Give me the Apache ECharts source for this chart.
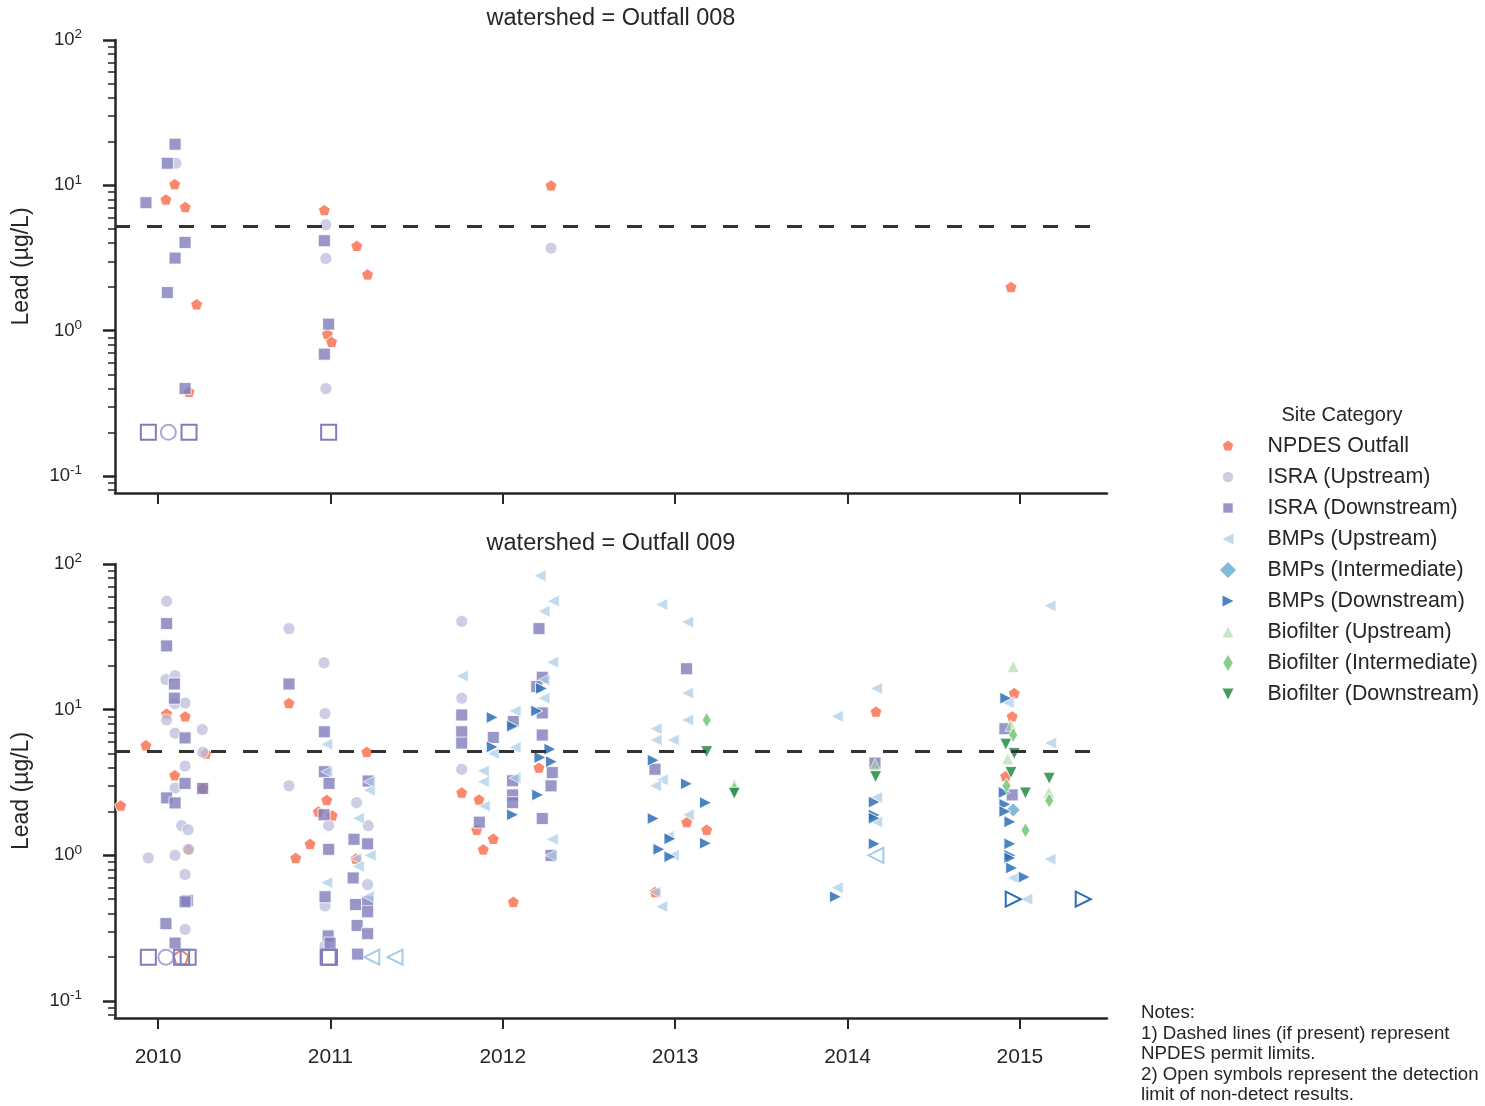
<!DOCTYPE html>
<html>
<head>
<meta charset="utf-8">
<script src="https://cdn.jsdelivr.net/npm/echarts@6/dist/echarts.min.js"></script>
<style>
html,body{margin:0;padding:0;background:#fff}
#main{width:1485px;height:1106px}
</style>
</head>
<body>
<div id="main"></div>
<script>
// site categories, in plotting order
var categories = ['NPDES Outfall', 'ISRA (Upstream)', 'ISRA (Downstream)', 'BMPs (Upstream)',
  'BMPs (Intermediate)', 'BMPs (Downstream)', 'Biofilter (Upstream)', 'Biofilter (Intermediate)', 'Biofilter (Downstream)'];
var colors = ['#f97b5c', '#bcbddc', '#807dba', '#a6cbe6', '#6baed6', '#2b6fb6', '#a1d99b', '#74c476', '#238b45'];
var panels = ['watershed = Outfall 008', 'watershed = Outfall 009'];
var years = [2010, 2011, 2012, 2013, 2014, 2015];
var yMajor = [0.1, 1, 10, 100];
var yMinor = [0.08, 0.09, 0.2, 0.3, 0.4, 0.5, 0.6, 0.7, 0.8, 0.9, 2, 3, 4, 5, 6, 7, 8, 9,
  20, 30, 40, 50, 60, 70, 80, 90];
var permitLimit = 5.2;

// [decimal year, lead ug/L] -- Outfall 008
var npdes008 = [[2010.097,10.2],[2010.046,8.0],[2010.158,7.1],[2010.224,1.52],[2010.180,0.38],[2010.965,6.76],
  [2011.153,3.84],[2011.216,2.44],[2010.983,0.95],[2011.007,0.84],[2012.280,10.0],[2014.948,2.0]];
var israUp008 = [[2010.104,14.2],[2010.974,5.36],[2010.974,3.14],[2010.974,0.40],[2012.280,3.7]];
var israDown008 = [[2010.099,19.2],[2010.054,14.2],[2009.930,7.6],[2010.157,4.05],[2010.099,3.16],[2010.054,1.83],
  [2010.157,0.40],[2010.965,4.16],[2010.990,1.11],[2010.965,0.69]];
var israUpND008 = [[2010.060,0.2]];
var israDownND008 = [[2009.944,0.2],[2010.180,0.2],[2010.990,0.2]];

// Outfall 009
var npdes009 = [[2010.050,9.4],[2010.158,9.0],[2009.930,5.7],[2010.278,5.0],[2010.097,3.55],[2010.259,2.88],
  [2009.784,2.2],[2010.177,1.1],[2010.760,11.1],[2011.211,5.13],[2010.979,2.4],[2010.930,2.0],[2011.011,1.88],
  [2010.882,1.2],[2010.799,0.96],[2011.148,0.95],[2011.762,2.7],[2011.862,2.42],[2011.849,1.5],[2011.945,1.3],
  [2011.887,1.1],[2012.061,0.48],[2012.210,4.0],[2013.067,1.69],[2013.183,1.5],[2012.883,0.56],[2014.165,9.7],
  [2014.967,13.0],[2014.955,9.0],[2014.917,3.5]];
var israUp009 = [[2010.050,55.6],[2010.046,16.1],[2010.099,17.1],[2010.099,11.0],[2010.157,11.1],[2010.050,8.5],
  [2010.257,7.3],[2010.099,6.9],[2010.259,5.1],[2010.157,4.1],[2010.099,2.9],[2010.137,1.6],[2010.175,1.5],
  [2010.177,1.1],[2010.099,1.0],[2009.944,0.96],[2010.157,0.74],[2010.157,0.31],[2010.760,36],[2010.963,21],
  [2010.969,9.4],[2010.760,3.0],[2010.990,1.6],[2011.152,2.3],[2011.219,1.6],[2011.216,0.63],[2010.969,0.45],
  [2010.969,0.24],[2011.762,40.4],[2011.762,12.0],[2011.762,3.9]];
var israDown009 = [[2010.050,39],[2010.050,27.4],[2010.095,15.0],[2010.095,12.0],[2010.157,6.4],[2010.157,3.12],
  [2010.259,2.88],[2010.050,2.48],[2010.099,2.29],[2010.170,0.49],[2010.157,0.48],[2010.046,0.34],[2010.099,0.25],
  [2010.760,15],[2010.965,7.05],[2010.965,3.75],[2010.992,3.12],[2011.219,3.24],[2010.963,1.9],[2011.137,1.29],
  [2011.216,1.2],[2010.990,1.1],[2011.132,0.70],[2010.969,0.52],[2011.146,0.46],[2011.216,0.48],[2011.216,0.41],
  [2011.155,0.33],[2011.216,0.29],[2010.987,0.28],[2010.998,0.25],[2011.158,0.21],[2012.210,36],[2012.229,16.7],
  [2012.197,14.4],[2012.229,9.5],[2011.762,9.2],[2012.061,8.3],[2011.762,7.05],[2011.945,6.45],[2012.229,6.7],
  [2011.762,5.9],[2012.287,3.7],[2012.057,3.25],[2012.280,3.0],[2012.057,2.6],[2012.057,2.3],[2012.229,1.79],
  [2011.864,1.69],[2012.280,1.0],[2013.066,19.1],[2012.883,3.9],[2014.159,4.3],[2014.913,7.4],[2014.955,2.6]];
var bmpUp009 = [[2010.979,5.8],[2010.979,3.75],[2011.225,2.8],[2011.225,3.2],[2011.162,1.8],[2011.230,1.0],
  [2011.148,0.95],[2011.162,0.84],[2010.979,0.65],[2011.219,0.52],[2012.216,83],[2012.293,55.6],[2012.239,47.4],
  [2012.289,21.2],[2011.765,17],[2012.239,16],[2012.239,12],[2012.071,9.8],[2011.945,5.0],[2012.071,5.5],
  [2011.887,3.8],[2011.887,3.2],[2012.071,3.4],[2011.893,2.18],[2012.287,1.29],[2012.280,1.0],[2012.922,52.7],
  [2013.072,40],[2013.072,13],[2013.072,8.5],[2012.889,7.4],[2012.889,6.2],[2012.989,6.2],[2012.925,3.3],
  [2012.886,3.0],[2013.076,1.9],[2012.960,1.35],[2012.989,1.0],[2012.883,0.56],[2012.922,0.445],[2013.940,9.0],
  [2014.168,14],[2014.168,2.5],[2014.168,1.7],[2013.940,0.6],[2015.174,51.6],[2014.932,11.2],[2015.178,5.9],
  [2015.174,0.94],[2014.961,0.7],[2015.039,0.5]];
var bmpMid009 = [[2014.961,2.05]];
var bmpDown009 = [[2012.225,14],[2012.197,9.8],[2011.939,8.85],[2012.057,7.7],[2011.939,5.55],[2012.274,5.36],
  [2012.216,4.7],[2012.283,4.4],[2012.203,2.6],[2012.057,1.9],[2012.873,4.5],[2013.066,3.1],[2013.176,2.3],
  [2012.873,1.79],[2012.970,1.3],[2013.176,1.21],[2012.906,1.1],[2012.970,0.98],[2014.155,2.32],[2014.155,1.89],
  [2014.155,1.8],[2014.155,1.2],[2013.930,0.52],[2014.918,12],[2014.909,2.7],[2014.913,2.24],[2014.913,2.0],
  [2014.942,1.7],[2014.942,1.2],[2014.942,1.0],[2014.942,0.96],[2014.952,0.82],[2015.025,0.71]];
var bioUp009 = [[2013.343,3.08],[2014.159,4.2],[2014.961,19.8],[2014.948,7.8],[2014.929,4.6],[2015.168,2.7]];
var bioMid009 = [[2013.183,8.5],[2013.343,2.85],[2014.961,6.7],[2014.922,3.0],[2015.170,2.38],[2015.032,1.49]];
var bioDown009 = [[2013.183,5.15],[2013.343,2.67],[2014.163,3.47],[2014.918,5.8],[2014.967,5.0],[2014.948,3.7],
  [2015.170,3.38],[2015.032,2.68]];
var npdesND009 = [[2010.133,0.2]];
var israUpND009 = [[2010.046,0.2]];
var israDownND009 = [[2009.944,0.2],[2010.137,0.2],[2010.175,0.2],[2010.987,0.2],[2010.995,0.2]];
var bmpUpND009 = [[2011.240,0.2],[2011.375,0.2],[2014.164,1.0]];
var bmpDownND009 = [[2014.961,0.5],[2015.367,0.5]];

var FONT = '"Liberation Sans", Arial, sans-serif';
var INK = '#262626';

var pentagon = 'M0,-1L0.951,-0.309L0.588,0.809L-0.588,0.809L-0.951,-0.309Z';
var triLeft = 'M-1,0L1,-1L1,1Z';
var triRight = 'M1,0L-1,-1L-1,1Z';
var triUp = 'M0,-1L1,1L-1,1Z';
var triDown = 'M0,1L-1,-1L1,-1Z';
var circle = 'M0.95,0A0.95,0.95,0,1,1,-0.95,0A0.95,0.95,0,1,1,0.95,0Z';
var square = 'M-0.85,-0.85L0.85,-0.85L0.85,0.85L-0.85,0.85Z';
var diamond = 'M0,-1L1,0L0,1L-1,0Z';
var thinDiamond = 'M0,-1L0.6,0L0,1L-0.6,0Z';
// a square bounding box for path symbols (moveTo only, nothing drawn)
var box1 = 'M-1,-1M1,1';
var boxPad = 'M-1.45,-1.45M1.45,1.45';

var symbols = ['path://' + pentagon, 'circle', 'rect', 'path://' + triLeft, 'diamond', 'path://' + triRight,
  'triangle', 'path://' + box1 + thinDiamond, 'path://' + triDown];
var legendIcons = [boxPad + pentagon, boxPad + circle, boxPad + square, boxPad + triLeft, box1 + diamond,
  boxPad + triRight, boxPad + triUp, box1 + thinDiamond, boxPad + triDown].map(function (d) { return 'path://' + d; });
var sizes = [12, 12, 12, 12, 14, 12, 12, 15, 12];
var alphas = [0.9, 0.75, 0.8, 0.7, 0.85, 0.85, 0.6, 0.85, 0.85];

var detected = [
  [npdes008, israUp008, israDown008, [], [], [], [], [], []],
  [npdes009, israUp009, israDown009, bmpUp009, bmpMid009, bmpDown009, bioUp009, bioMid009, bioDown009]
];
var nonDetect = [
  [[], israUpND008, israDownND008, [], [], [], [], [], []],
  [npdesND009, israUpND009, israDownND009, bmpUpND009, [], bmpDownND009, [], [], []]
];

var series = [];
[0, 1].forEach(function (p) {
  categories.forEach(function (name, i) {
    var s = {
      name: name,
      type: 'scatter',
      xAxisIndex: p,
      yAxisIndex: p * 2,
      symbol: symbols[i],
      symbolKeepAspect: true,
      symbolSize: sizes[i],
      data: detected[p][i],
      itemStyle: {color: colors[i], opacity: alphas[i], borderColor: '#fff', borderWidth: 1},
      emphasis: {disabled: true}
    };
    if (i === 0) {
      s.markLine = {
        silent: true,
        symbol: ['none', 'none'],
        label: {show: false},
        lineStyle: {color: '#333', width: 3, type: [15, 17]},
        data: [{yAxis: permitLimit}]
      };
    }
    series.push(s);
  });
  categories.forEach(function (name, i) {
    if (!nonDetect[p][i].length) return;
    series.push({
      name: name + ' ND',
      type: 'scatter',
      xAxisIndex: p,
      yAxisIndex: p * 2,
      symbol: symbols[i],
      symbolKeepAspect: true,
      symbolSize: 15,
      data: nonDetect[p][i],
      itemStyle: {color: 'rgba(0,0,0,0)', borderColor: i === 1 ? '#a9a8d2' : (i === 3 ? '#a6cbe6' : colors[i]), borderWidth: 2, opacity: 1},
      emphasis: {disabled: true}
    });
  });
});

function powLabel(v) {
  var e = Math.round(Math.log(v) / Math.LN10);
  return '{b|10}{s|' + e + '}';
}

var grids = [
  {left: 115, top: 40, width: 992, height: 453},
  {left: 115, top: 564, width: 992, height: 454}
];
var xAxes = [0, 1].map(function (p) {
  return {
    type: 'value', gridIndex: p, min: 2009.7506, max: 2015.505,
    splitLine: {show: false},
    axisLine: {lineStyle: {color: INK, width: 2.5}},
    axisTick: {customValues: years, length: 11, lineStyle: {color: INK, width: 2}},
    axisLabel: {show: p === 1, customValues: years, margin: 29, fontSize: 21, fontFamily: FONT, color: INK,
      formatter: function (v) { return String(Math.round(v)); }}
  };
});
var yAxes = [];
[0, 1].forEach(function (p) {
  yAxes.push({
    type: 'log', logBase: 10, gridIndex: p, min: 0.0765, max: 100, position: 'left', offset: 0,
    name: 'Lead (µg/L)', nameLocation: 'middle', nameGap: 82,
    nameTextStyle: {fontSize: 23, fontFamily: FONT, color: INK},
    splitLine: {show: false},
    axisLine: {show: true, lineStyle: {color: INK, width: 2.5}},
    axisTick: {customValues: yMajor, length: 12, lineStyle: {color: INK, width: 2.5}},
    axisLabel: {customValues: yMajor, margin: 33, formatter: powLabel,
      rich: {
        b: {fontSize: 18.5, fontFamily: FONT, color: INK, lineHeight: 25},
        s: {fontSize: 13.5, fontFamily: FONT, color: INK, lineHeight: 14, verticalAlign: 'top'}
      }}
  });
  yAxes.push({
    type: 'log', logBase: 10, gridIndex: p, min: 0.0765, max: 100, position: 'left', offset: 0,
    splitLine: {show: false},
    axisLine: {show: false},
    axisTick: {customValues: yMinor, length: 7, lineStyle: {color: INK, width: 1.5}},
    axisLabel: {show: false}
  });
});

var graphics = [
  {type: 'text', x: 611, y: 19, style: {text: panels[0], textAlign: 'center', textVerticalAlign: 'middle',
    font: '23.5px ' + FONT, fill: INK}},
  {type: 'text', x: 611, y: 544, style: {text: panels[1], textAlign: 'center', textVerticalAlign: 'middle',
    font: '23.5px ' + FONT, fill: INK}},
  {type: 'text', x: 1342, y: 415, style: {text: 'Site Category', textAlign: 'center', textVerticalAlign: 'middle',
    font: '20px ' + FONT, fill: INK}},
  {type: 'text', x: 1141, y: 1003, style: {
    text: 'Notes:\n1) Dashed lines (if present) represent\nNPDES permit limits.\n2) Open symbols represent the detection\nlimit of non-detect results.',
    font: '18.7px ' + FONT, lineHeight: 20.4, fill: INK, textVerticalAlign: 'top'}}
];

var myChart = echarts.init(document.getElementById('main'));
var option = {
  backgroundColor: '#fff',
  animation: false,
  grid: grids,
  xAxis: xAxes,
  yAxis: yAxes,
  legend: {
    orient: 'vertical', left: 1220, top: 435.5, padding: 0,
    itemWidth: 16, itemHeight: 16, itemGap: 10,
    selectedMode: false,
    itemStyle: {borderWidth: 0},
    textStyle: {fontSize: 21.4, fontFamily: FONT, color: INK, lineHeight: 20, padding: [0, 0, 0, 26.5]},
    data: categories.map(function (c, i) { return {name: c, icon: legendIcons[i]}; })
  },
  graphic: graphics,
  series: series
};
myChart.setOption(option);
</script>
</body>
</html>
